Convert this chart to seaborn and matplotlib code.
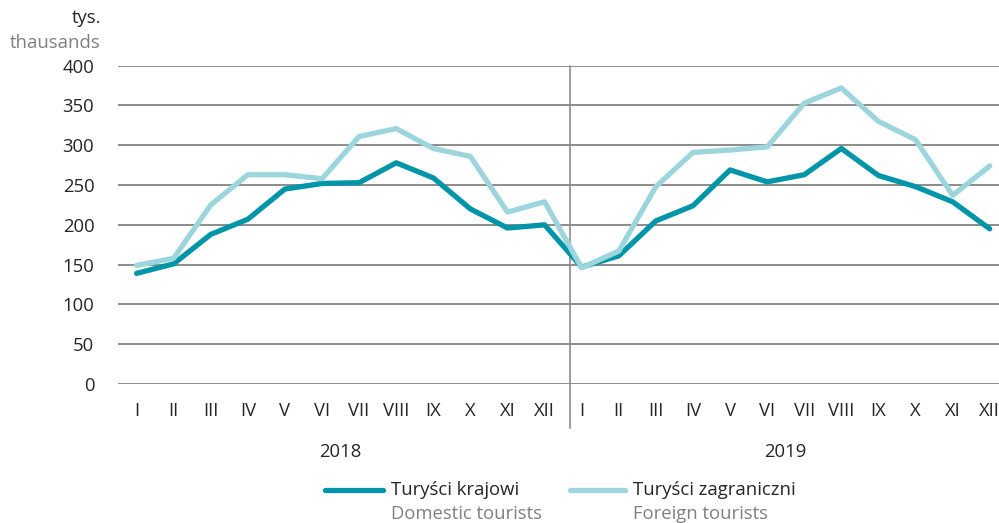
import pandas as pd
import seaborn as sns
import matplotlib.pyplot as plt
from matplotlib.lines import Line2D

# dane (tys.)
months = ["I", "II", "III", "IV", "V", "VI", "VII", "VIII", "IX", "X", "XI", "XII"]
years = ["2018", "2019"]
domestic = [139, 151, 188, 207, 245, 252, 253, 278, 259, 220, 196, 200,
            147, 161, 205, 224, 269, 254, 263, 296, 262, 248, 229, 195]
foreign = [149, 158, 225, 263, 263, 258, 311, 321, 296, 286, 216, 229,
           146, 167, 248, 291, 294, 298, 353, 372, 330, 307, 237, 274]
y_ticks = [0, 50, 100, 150, 200, 250, 300, 350, 400]

col_dom = "#0095a8"
col_for = "#9dd5dc"
gray = "#808080"
fs = 13.3

sns.set_theme(style="white")
plt.rcParams["font.family"] = ["Open Sans", "DejaVu Sans"]

n = len(domestic)
df = pd.DataFrame({
    "pos": list(range(n)) * 2,
    "value": domestic + foreign,
    "series": ["Turyści krajowi"] * n + ["Turyści zagraniczni"] * n,
})

fig = plt.figure(figsize=(9.99, 5.23), dpi=100)
ax = fig.add_axes([118 / 999, 1 - 384 / 523, 1 - 118 / 999, (384 - 65.7) / 523])

ax.set_ylim(0, 400)
ax.set_xlim(-0.5, 23.25)
for t in y_ticks:
    ax.axhline(t, color="#8c8c8c", lw=1.4, zorder=1)

sns.lineplot(data=df, x="pos", y="value", hue="series",
             palette=[col_dom, col_for], linewidth=3.8, ax=ax,
             legend=False, zorder=3, clip_on=False)
for line, z in zip(ax.lines[-2:], [3, 4]):
    line.set_zorder(z)
    line.set_solid_capstyle("round")

ax.set_xticks(range(n))
ax.set_xticklabels(months * 2, fontsize=fs)
ax.set_yticks(y_ticks)
ax.set_yticklabels([str(t) for t in y_ticks], fontsize=fs)
ax.tick_params(axis="x", length=0, pad=13)
ax.tick_params(axis="y", length=0, pad=17)
ax.set_xlabel("")
ax.set_ylabel("")
sns.despine(ax=ax, left=True, bottom=True, right=True, top=True)

# separator lat
ax.plot([11.68, 11.68], [400, -55], color="#8c8c8c", lw=1.2,
        clip_on=False, zorder=2)

fig.text(340 / 999, 1 - 452 / 523, years[0], ha="center", va="center", fontsize=fs)
fig.text(785 / 999, 1 - 452 / 523, years[1], ha="center", va="center", fontsize=fs)

fig.text(101 / 999, 1 - 18 / 523, "tys.", ha="right", va="center", fontsize=fs)
fig.text(101 / 999, 1 - 43 / 523, "thausands", ha="right", va="center",
         fontsize=fs, color=gray)

# legenda
for x0, x1, c, lab, sub in [(325, 383, col_dom, "Turyści krajowi", "Domestic tourists"),
                            (570, 625, col_for, "Turyści zagraniczni", "Foreign tourists")]:
    fig.add_artist(Line2D([x0 / 999, x1 / 999], [1 - 490 / 523] * 2,
                          color=c, lw=3.8, solid_capstyle="round"))
    fig.text((x1 + 8) / 999, 1 - 490 / 523, lab, ha="left", va="center", fontsize=fs)
    fig.text((x1 + 8) / 999, 1 - 514 / 523, sub, ha="left", va="center",
             fontsize=fs, color=gray)

fig.savefig("out.png", dpi=100)
